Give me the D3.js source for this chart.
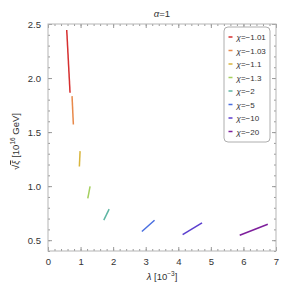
<!DOCTYPE html>
<html>
<head>
<meta charset="utf-8">
<script src="https://cdn.jsdelivr.net/npm/d3@7"></script>
<style>
  body { margin: 0; background: #fff; }
  text { font-family: "Liberation Sans", Arial, sans-serif; fill: #333; }
</style>
</head>
<body>
<div id="chart"></div>
<script>
// chi values and their colours
var chiLabels = ["-1.01", "-1.03", "-1.1", "-1.3", "-2", "-5", "-10", "-20"];
var colors = ["#d62f2f", "#e8894a", "#d8b53c", "#a4cf5e", "#5db5a2", "#4a6fe0", "#5b3fcf", "#7e1f9c"];
// each segment: [lambda start, xi start, lambda end, xi end]
var lambdaStart = [0.575, 0.738, 0.985, 1.292, 1.877, 3.271, 4.729, 6.748];
var xiStart     = [2.444, 1.833, 1.324, 0.997, 0.787, 0.685, 0.661, 0.648];
var lambdaEnd   = [0.677, 0.779, 0.963, 1.221, 1.713, 2.883, 4.133, 5.886];
var xiEnd       = [1.864, 1.571, 1.182, 0.886, 0.685, 0.580, 0.551, 0.546];
var xTicks = [0, 1, 2, 3, 4, 5, 6, 7];
var yTicks = [0.5, 1.0, 1.5, 2.0, 2.5];

var W = 289, H = 292;
var margin = {top: 24, right: 13, bottom: 41, left: 48};
var width = W - margin.left - margin.right,
    height = H - margin.top - margin.bottom;

var svg = d3.select("#chart").append("svg")
  .attr("width", W).attr("height", H);
var g = svg.append("g")
  .attr("transform", "translate(" + margin.left + "," + margin.top + ")");

var x = d3.scaleLinear().domain([0, 7]).range([0, width]);
var y = d3.scaleLinear().domain([0.4, 2.5]).range([height, 0]);

var xMinor = d3.range(0, 7.001, 0.2).map(function (v) { return +v.toFixed(2); });
var yMinor = d3.range(0.4, 2.501, 0.1).map(function (v) { return +v.toFixed(2); });

function styleAxis(sel) {
  sel.select(".domain").remove();
  sel.selectAll("line").attr("stroke", "#999");
  sel.selectAll("text").attr("font-size", "9.5px").attr("fill", "#333");
}

// minor ticks (inside frame)
g.append("g").attr("transform", "translate(0," + height + ")")
  .call(d3.axisBottom(x).tickValues(xMinor).tickSize(-2).tickFormat(""))
  .call(styleAxis);
g.append("g")
  .call(d3.axisTop(x).tickValues(xMinor).tickSize(-2).tickFormat(""))
  .call(styleAxis);
g.append("g")
  .call(d3.axisLeft(y).tickValues(yMinor).tickSize(-2).tickFormat(""))
  .call(styleAxis);
g.append("g").attr("transform", "translate(" + width + ",0)")
  .call(d3.axisRight(y).tickValues(yMinor).tickSize(-2).tickFormat(""))
  .call(styleAxis);

// major ticks
g.append("g").attr("transform", "translate(0," + height + ")")
  .call(d3.axisBottom(x).tickValues(xTicks).tickSize(-4).tickPadding(7).tickFormat(d3.format("d")))
  .call(styleAxis);
g.append("g")
  .call(d3.axisTop(x).tickValues(xTicks).tickSize(-4).tickFormat(""))
  .call(styleAxis);
g.append("g")
  .call(d3.axisLeft(y).tickValues(yTicks).tickSize(-4).tickPadding(7).tickFormat(d3.format(".1f")))
  .call(styleAxis);
g.append("g").attr("transform", "translate(" + width + ",0)")
  .call(d3.axisRight(y).tickValues(yTicks).tickSize(-4).tickFormat(""))
  .call(styleAxis);

// frame
g.append("rect")
  .attr("width", width).attr("height", height)
  .attr("fill", "none").attr("stroke", "#b5b5b5").attr("stroke-width", 1);

// segments
var segs = chiLabels.map(function (c, i) {
  return {c: c, col: colors[i], x1: lambdaStart[i], y1: xiStart[i], x2: lambdaEnd[i], y2: xiEnd[i]};
});
g.selectAll(".seg").data(segs).enter().append("line")
  .attr("class", "seg")
  .attr("x1", function (d) { return x(d.x1); })
  .attr("y1", function (d) { return y(d.y1); })
  .attr("x2", function (d) { return x(d.x2); })
  .attr("y2", function (d) { return y(d.y2); })
  .attr("stroke", function (d) { return d.col; })
  .attr("stroke-width", 1.5);

// title
svg.append("text")
  .attr("x", margin.left + width / 2).attr("y", 17)
  .attr("text-anchor", "middle").attr("font-size", "9.5px")
  .html('<tspan font-style="italic">α</tspan>=1');

// x label
svg.append("text")
  .attr("x", margin.left + width / 2).attr("y", 280)
  .attr("text-anchor", "middle").attr("font-size", "9.5px")
  .html('<tspan font-style="italic">λ</tspan> [10<tspan dy="-4" font-size="6.5px">−3</tspan><tspan dy="4">]</tspan>');

// y label
var yl = svg.append("text")
  .attr("transform", "translate(19," + (margin.top + height / 2 + 4) + ") rotate(-90)")
  .attr("text-anchor", "middle").attr("font-size", "9.5px");
yl.append("tspan").text("√");
yl.append("tspan").attr("font-style", "italic").attr("text-decoration", "overline").text("ξ");
yl.append("tspan").text(" [10");
yl.append("tspan").attr("dy", -4).attr("font-size", "6.5px").text("16");
yl.append("tspan").attr("dy", 4).text(" GeV]");

// legend
var lg = svg.append("g").attr("transform", "translate(224,27)");
lg.append("rect")
  .attr("width", 46).attr("height", 115).attr("rx", 4)
  .attr("fill", "#fff").attr("stroke", "#999").attr("stroke-width", 0.8);
var item = lg.selectAll(".item").data(segs).enter().append("g")
  .attr("class", "item")
  .attr("transform", function (d, i) { return "translate(0," + (10 + i * 13.5) + ")"; });
item.append("line")
  .attr("x1", 4.5).attr("x2", 8.5).attr("y1", 0).attr("y2", 0)
  .attr("stroke", function (d) { return d.col; }).attr("stroke-width", 1.5);
item.append("text")
  .attr("x", 12.5).attr("y", 3).attr("font-size", "8px")
  .html(function (d) { return '<tspan font-style="italic">χ</tspan>=' + d.c.replace("-", "−"); });
</script>
</body>
</html>
